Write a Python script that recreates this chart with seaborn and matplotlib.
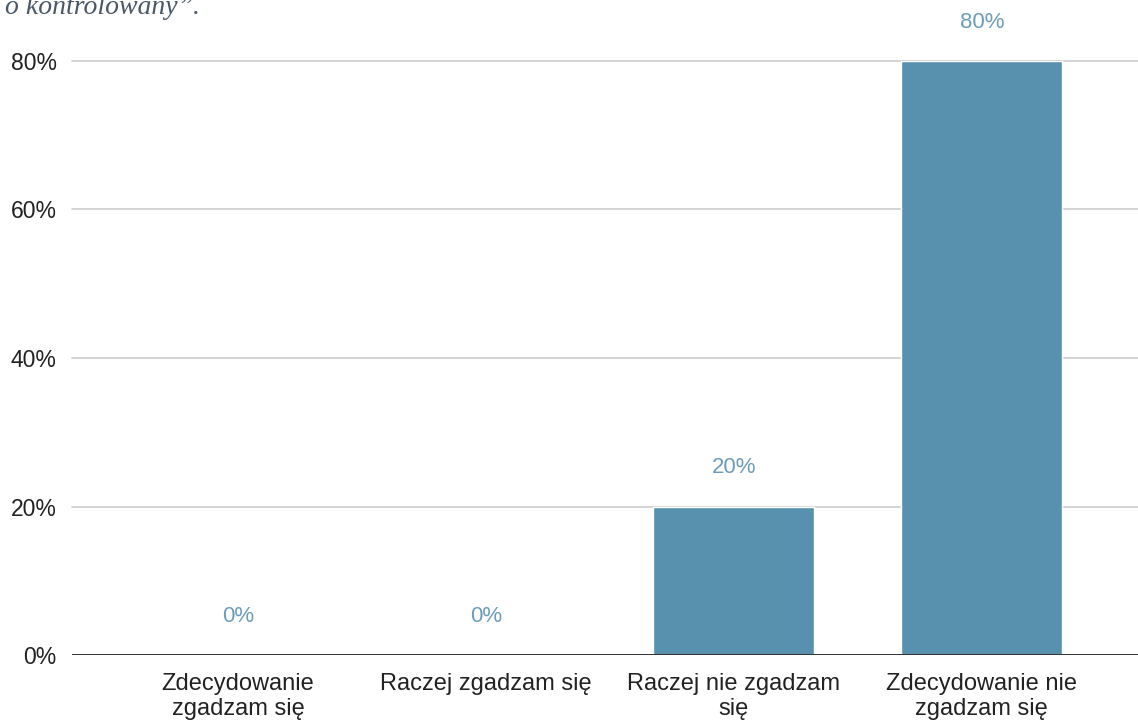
import numpy as np
import pandas as pd
import seaborn as sns
import matplotlib
matplotlib.use('Agg')
import matplotlib.pyplot as plt

categories = ['Zdecydowanie\nzgadzam się', 'Raczej zgadzam się',
              'Raczej nie zgadzam\nsię', 'Zdecydowanie nie\nzgadzam się']
values = [0, 0, 20, 80]
yticks = [0, 20, 40, 60, 80]

bar_color = '#5891ae'
label_color = '#6b9dba'

sns.set_style('white')
plt.rcParams['font.family'] = ['Liberation Sans', 'DejaVu Sans']

df = pd.DataFrame({'odp': categories, 'proc': values})

fig = plt.figure(figsize=(11.38, 7.22), dpi=100)
ax = fig.add_axes([72/1138, 67/722, 1066/1138, 594/722])

sns.barplot(data=df, x='odp', y='proc', color=bar_color, width=0.65,
            saturation=1, ax=ax, zorder=3)

ax.set_ylim(0, 80)
ax.set_xlim(-0.67, 3.63)
ax.set_yticks(yticks)
ax.set_yticklabels([f'{t}%' for t in yticks], fontsize=16.5, color='#222222')
ax.tick_params(axis='x', labelsize=17, colors='#222222', length=0, pad=13)
ax.tick_params(axis='y', length=0, pad=11)
for lab in ax.get_xticklabels():
    lab.set_linespacing(1.2)
ax.set_xlabel('')
ax.set_ylabel('')

for t in yticks[1:]:
    ax.axhline(t, color='#cccccc', lw=1.2, zorder=1, clip_on=False)
ax.axhline(0, color='#333333', lw=1.4, zorder=4)
for s in ax.spines.values():
    s.set_visible(False)

# value labels over the bars
for i, v in enumerate(values):
    ax.annotate(f'{v}%', (i, v), xytext=(0, 28), textcoords='offset points',
                ha='center', va='center', fontsize=16, color=label_color,
                annotation_clip=False)

# clipped question title at the very top
fig.text(200/1138, 1 - 14/722, 'o kontrolowany”.', ha='right',
         va='baseline', fontsize=20, style='italic', color='#4a5868',
         family='Liberation Serif')

fig.savefig('out.png', dpi=100)
